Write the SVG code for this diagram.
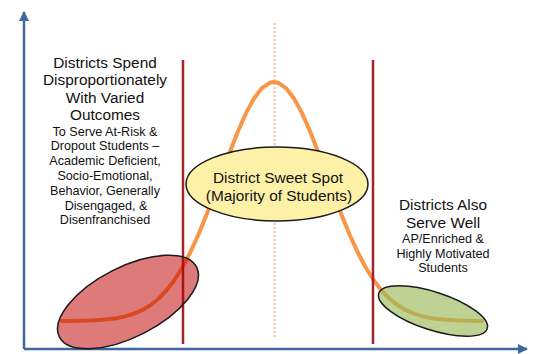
<svg xmlns="http://www.w3.org/2000/svg" width="534" height="354" viewBox="0 0 534 354">
  <style>
    .axis { stroke: #3f68a2; stroke-width: 2.5; fill: none; }
    .divider { stroke: #a3242a; stroke-width: 2.5; fill: none; }
    .curve { stroke: #f79646; stroke-width: 4; fill: none; stroke-linejoin: round; stroke-linecap: round; }
    .mean { stroke: #f2c495; stroke-width: 2; stroke-dasharray: 2 2; fill: none; }
    .zone { stroke: #1a1a1a; stroke-width: 1.5; }
    text { font-family: "Liberation Sans", Arial, sans-serif; fill: #111; text-anchor: middle; }
    .big { font-size: 15.4px; }
    .small { font-size: 12.6px; }
  </style>
  <defs>
    <marker id="arrow" viewBox="0 0 10 10" refX="9" refY="5" markerWidth="4" markerHeight="4" orient="auto" markerUnits="strokeWidth">
      <path d="M0,0 L10,5 L0,10 z" fill="#3f68a2"/>
    </marker>
  </defs>

  <g id="connectors">
    <!-- axes -->
    <path class="axis" d="M24,349 L24,12" marker-end="url(#arrow)"/>
    <path class="axis" d="M24,349 L527,349" marker-end="url(#arrow)"/>
    <!-- mean line -->
    <path class="mean" d="M274.5,23 L274.5,337"/>
    <!-- distribution curve -->
    <polyline class="curve" points="62,320.9 70,320.9 78,320.7 86,320.6 94,320.3 102,319.8 110,319.0 118,317.9 126,316.2 134,313.7 142,310.2 150,305.5 158,299.2 166,291.0 174,280.7 182,268.0 190,252.9 198,235.5 206,216.1 214,195.1 222,173.3 230,151.7 238,131.2 246,113.1 254,98.4 262,88.1 270,82.7 274,82 278,82.7 286,88.1 294,98.4 302,113.1 310,131.2 318,151.7 326,173.3 334,195.1 342,216.1 350,235.5 358,252.9 366,268.0 374,280.7 382,291.0 390,299.2 398,305.5 406,310.2 414,313.7 422,316.2 430,317.9 438,319.0 446,319.8 454,320.3 462,320.6 470,320.7 478,320.9 482,320.9"/>
    <!-- segment dividers -->
    <path class="divider" d="M183,60 L183,344"/>
    <path class="divider" d="M373,60 L373,344" stroke="#a03a3a"/>
  </g>

  <g id="at-risk">
    <ellipse class="zone" cx="128" cy="302" rx="77" ry="35" transform="rotate(-27 128 302)" fill="#c00000" fill-opacity="0.52"/>
  </g>

  <g id="enriched">
    <ellipse class="zone" cx="433" cy="311" rx="57" ry="19" transform="rotate(18 433 311)" fill="#9bbb59" fill-opacity="0.65"/>
  </g>

  <g id="sweet-spot">
    <ellipse class="zone" cx="277" cy="184" rx="91" ry="37" fill="#fdf1a8"/>
    <text class="big" x="278" y="182.5">District Sweet Spot</text>
    <text class="big" x="279" y="200.5">(Majority of Students)</text>
  </g>

  <g id="left-label">
    <text class="big" x="105" y="67.5">Districts Spend</text>
    <text class="big" x="105" y="85">Disproportionately</text>
    <text class="big" x="105" y="102.5">With Varied</text>
    <text class="big" x="105" y="120">Outcomes</text>
    <text class="small" x="105" y="135.5">To Serve At-Risk &amp;</text>
    <text class="small" x="105" y="150">Dropout Students –</text>
    <text class="small" x="105" y="165">Academic Deficient,</text>
    <text class="small" x="105" y="180">Socio-Emotional,</text>
    <text class="small" x="105" y="195">Behavior, Generally</text>
    <text class="small" x="106" y="209.5">Disengaged, &amp;</text>
    <text class="small" x="105" y="224">Disenfranchised</text>
  </g>

  <g id="right-label">
    <text class="big" x="443" y="209.5">Districts Also</text>
    <text class="big" x="443" y="227.5">Serve Well</text>
    <text class="small" x="443" y="242.5">AP/Enriched &amp;</text>
    <text class="small" x="443" y="257.5">Highly Motivated</text>
    <text class="small" x="443" y="271.5">Students</text>
  </g>
</svg>
